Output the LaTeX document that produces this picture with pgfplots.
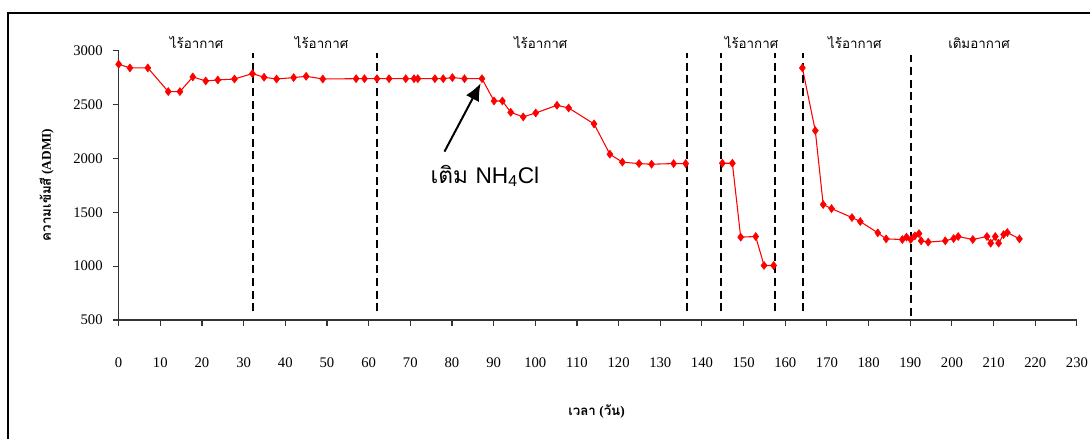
\documentclass[border=0pt]{standalone}
\usepackage{fontspec}
\setmainfont{Liberation Serif}
\newfontfamily\thaifont[Script=Thai]{Loma}
\newfontfamily\lsans{Liberation Sans}
\usepackage{pgfplots}
\pgfplotsset{compat=1.18}
\usetikzlibrary{arrows.meta}
\tikzset{vdash/.style={black, line width=1.5pt, dash pattern=on 6pt off 3.5pt},
  toplab/.style={anchor=base, inner sep=0pt, font=\thaifont\fontsize{10}{12}\selectfont}}
\begin{document}
\begin{tikzpicture}
\begin{axis}[
  scale only axis,
  width=718.7pt, height=202pt,
  xmin=0, xmax=230, ymin=500, ymax=3000,
  xtick={0,10,...,230}, ytick={500,1000,...,3000},
  axis lines*=left,
  axis line style={black!80, line width=0.8pt},
  tick style={black!80, line width=0.8pt},
  tick align=outside, major tick length=4.5pt,
  /pgf/number format/assume math mode=true,
  /pgf/number format/1000 sep={},
  tick label style={font=\fontsize{11}{13}\selectfont},
  xticklabel style={yshift=-20.5pt},
  yticklabel style={xshift=-4pt},
  clip=false,
]
\addplot[red, line width=0.8pt, mark=diamond*, mark size=3pt, mark options={fill=red, draw=red, line width=0.4pt}] coordinates {
(0,2874) (2.7,2840) (7,2840) (11.9,2620) (14.7,2620) (17.8,2756) (20.9,2719) (23.8,2728) (27.8,2737)
(32.1,2787) (34.9,2753) (37.9,2737) (42,2750) (45,2762) (49,2737) (57,2740) (59,2740) (62,2740)
(64.9,2740) (68.9,2740) (70.9,2740) (71.8,2740) (75.9,2740) (77.9,2740) (80.1,2750) (83,2740)
(87.2,2740) (90.1,2533) (92.1,2533) (94.1,2428) (97.1,2385) (100.1,2422) (105.2,2493) (108,2468)
(114.1,2320) (117.9,2039) (120.9,1965) (124.9,1952) (127.9,1946) (133.2,1952) (136.1,1952)
};
\addplot[red, line width=0.8pt, mark=diamond*, mark size=3pt, mark options={fill=red, draw=red, line width=0.4pt}] coordinates {
(144.9,1955) (147.3,1955) (149.3,1269) (152.9,1275) (154.9,1006) (157.2,1006)
};
\addplot[red, line width=0.8pt, mark=diamond*, mark size=3pt, mark options={fill=red, draw=red, line width=0.4pt}] coordinates {
(164.1,2840) (167.2,2258) (169.1,1572) (171.1,1534) (176,1451) (178,1414) (182.2,1309) (184.2,1253)
(188.1,1247) (189.1,1269) (190.1,1247) (191.1,1281) (192.1,1302) (192.6,1235) (194.3,1223)
(198.4,1235) (200.4,1256) (201.5,1275) (205,1247) (208.4,1275) (209.3,1213) (210.4,1275)
(211.2,1213) (212.4,1293) (213.3,1312) (216.2,1253)
};
\draw[vdash] (axis cs:32.2,580) -- (axis cs:32.2,2980);
\draw[vdash] (axis cs:62.0,580) -- (axis cs:62.0,2980);
\draw[vdash] (axis cs:136.5,580) -- (axis cs:136.5,2980);
\draw[vdash] (axis cs:144.5,580) -- (axis cs:144.5,2980);
\draw[vdash] (axis cs:157.6,580) -- (axis cs:157.6,2980);
\draw[vdash] (axis cs:164.3,580) -- (axis cs:164.3,2980);
\draw[vdash] (axis cs:190.2,540) -- (axis cs:190.2,2960);
\draw[black, line width=1.5pt, -{Latex[length=13pt,width=11pt]}] (axis cs:78.2,2063) -- (axis cs:86.9,2698);
\node[font=\fontsize{17}{19}\selectfont] at (axis cs:87.9,1840) {\thaifont เติม \lsans NH\textsubscript{4}Cl};
\node[toplab] at (axis cs:18.7,3022) {ไร้อากาศ};
\node[toplab] at (axis cs:48.7,3022) {ไร้อากาศ};
\node[toplab] at (axis cs:101.3,3022) {ไร้อากาศ};
\node[toplab] at (axis cs:151.9,3022) {ไร้อากาศ};
\node[toplab] at (axis cs:176.7,3022) {ไร้อากาศ};
\node[toplab] at (axis cs:206.5,3022) {เติมอากาศ};
\node[rotate=90, font=\fontsize{10}{12}\selectfont\bfseries] at (axis cs:-17.3,1754) {{\thaifont ความเข้มสี} (ADMI)};
\node[font=\fontsize{10}{12}\selectfont\bfseries] at (axis cs:114.7,-349) {{\thaifont เวลา} ({\thaifont วัน})};
\end{axis}
\draw[black, line width=0.8pt] (-83pt,-95pt) -- (-83pt,230.25pt) -- (735pt,230.25pt);
\pgfresetboundingbox
\useasboundingbox (-89pt,-89.25pt) rectangle (728.5pt,240pt);
\end{tikzpicture}
\end{document}
